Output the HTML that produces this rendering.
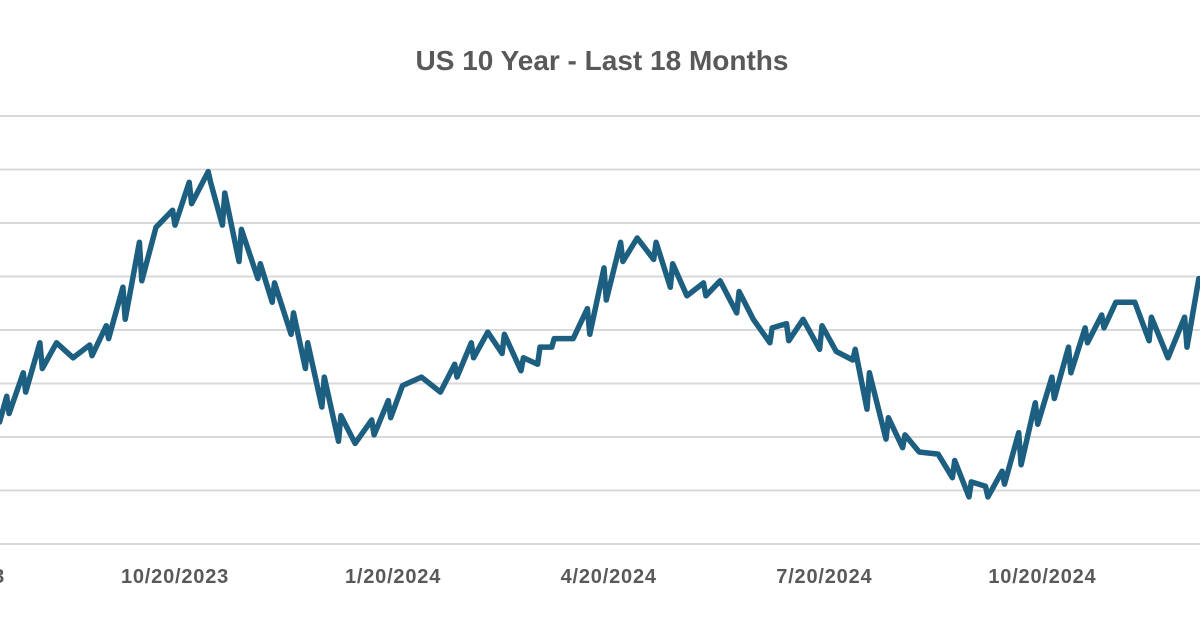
<!DOCTYPE html>
<html><head><meta charset="utf-8"><style>
html,body{margin:0;padding:0;background:#fff;}
svg{display:block;}
</style></head><body>
<svg id="chart" width="1200" height="630" viewBox="0 0 1200 630" xmlns="http://www.w3.org/2000/svg">
<text x="602" y="70" text-anchor="middle" font-family="Liberation Sans, sans-serif" font-weight="bold" font-size="28" fill="#595959">US 10 Year - Last 18 Months</text>
<g id="grid"></g>
<g id="xaxis"></g>
<path id="line" fill="none" stroke="#1d5f80" stroke-width="5.5" stroke-linejoin="round" stroke-linecap="round"/>
</svg>
<script>
// days offset from 10/20/2023
const days = [-74,-71,-70,-64,-63,-57,-56,-50,-43,-36,-35,-29,-28,-22,-21,-15,-14,-8,-1,0,6,7,14,15,
20,21,27,28,35,36,41,42,49,50,55,56,62,63,69,70,76,
83,84,90,91,96,104,112,118,119,125,126,132,
138,139,146,147,153,154,159,160,168,174,175,181,182,188,189,195,
202,203,209,210,216,223,224,230,237,238,244,251,252,258,259,265,272,273,279,286,287,292,293,300,301,307,308,314,322,328,329,335,336,342,343,
349,350,356,357,363,364,370,371,377,378,384,385,391,392,397,405,
411,412,419,426,427,432];
const yields = [3.82,3.94,3.86,4.05,3.96,4.19,4.07,4.19,4.12,4.18,4.13,4.27,4.21,4.45,4.30,4.66,4.48,4.73,4.81,4.74,4.94,4.84,4.99,4.94,
4.74,4.89,4.57,4.72,4.49,4.56,4.38,4.47,4.23,4.33,4.07,4.19,3.89,4.03,3.73,3.85,3.72,
3.83,3.76,3.92,3.84,3.99,4.03,3.96,4.09,4.03,4.19,4.12,4.24,
4.14,4.23,4.06,4.12,4.09,4.17,4.17,4.21,4.21,4.35,4.23,4.54,4.39,4.66,4.57,4.68,
4.58,4.66,4.45,4.56,4.41,4.47,4.41,4.48,4.33,4.43,4.30,4.19,4.26,4.28,4.20,4.30,4.16,4.27,4.15,4.11,4.16,3.88,4.05,3.74,3.84,3.70,3.76,3.68,3.67,3.56,3.64,3.47,3.54,3.52,3.47,
3.59,3.53,3.77,3.62,3.91,3.81,4.03,3.93,4.17,4.05,4.26,4.19,4.32,4.26,4.38,4.38,
4.20,4.31,4.12,4.31,4.17,4.49];
const gridValues = [3.25,3.5,3.75,4.0,4.25,4.5,4.75,5.0,5.25];
const tickDays = [-92,0,92,183,274,366,458];
const tickLabels = ["7/20/2023","10/20/2023","1/20/2024","4/20/2024","7/20/2024","10/20/2024","1/20/2025"];

function xScale(d){return 175 + d*2.37;}
function yScale(v){return 544 - (v-3.25)*214;}
const NS="http://www.w3.org/2000/svg";
const grid=document.getElementById('grid');
gridValues.forEach(v=>{
  const l=document.createElementNS(NS,'line');
  
  
  l.setAttribute('x1',0);l.setAttribute('x2',1200);
  l.setAttribute('y1',yScale(v));l.setAttribute('y2',yScale(v));
  l.setAttribute('stroke','#d9d9d9');l.setAttribute('stroke-width','2');
  grid.appendChild(l);
});
const xa=document.getElementById('xaxis');
tickDays.forEach((d,i)=>{
  const t=document.createElementNS(NS,'text');
  
  
  t.setAttribute('x',xScale(d));t.setAttribute('y',583);
  t.setAttribute('text-anchor','middle');
  t.setAttribute('font-family','Liberation Sans, sans-serif');
  t.setAttribute('font-weight','bold');t.setAttribute('font-size','20');
  t.setAttribute('letter-spacing','0.8');
  t.setAttribute('fill','#595959');
  t.textContent=tickLabels[i];
  xa.appendChild(t);
});
let dstr='';
days.forEach((d,i)=>{dstr+=(i?'L':'M')+xScale(d).toFixed(1)+' '+yScale(yields[i]).toFixed(1);});
document.getElementById('line').setAttribute('d',dstr);
</script>
</body></html>
